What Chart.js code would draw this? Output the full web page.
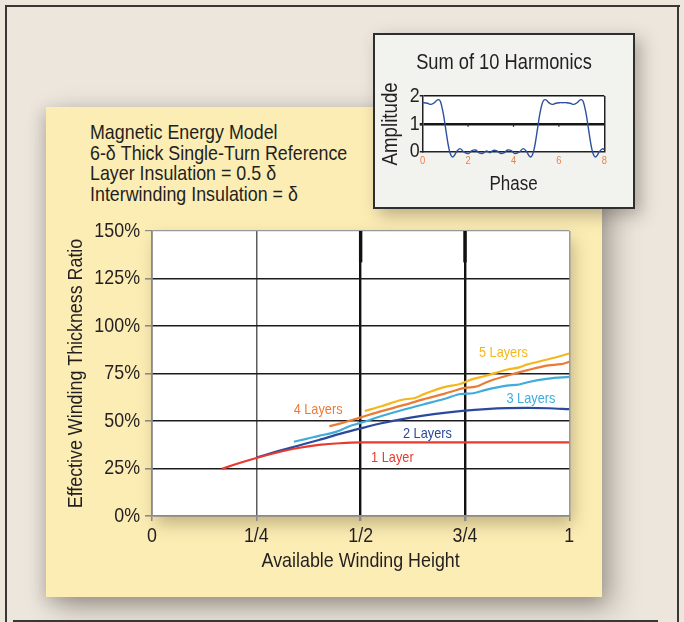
<!DOCTYPE html>
<html>
<head>
<meta charset="utf-8">
<script src="https://cdn.jsdelivr.net/npm/chart.js@4.4.1/dist/chart.umd.min.js"></script>
<style>
  html, body { margin: 0; padding: 0; }
  body { width: 684px; height: 622px; background: #ece6dd; position: relative; overflow: hidden;
         font-family: "Liberation Sans", Arial, sans-serif; color: #231f20; }
  .rule { position: absolute; background: #3a3836; }
  #panel { position: absolute; left: 46px; top: 107px; width: 556px; height: 490px; background: #fcedb5;
           box-shadow: 10px 10px 26px rgba(70,60,50,0.42), -3px 4px 14px rgba(70,60,50,0.2); }
  #caption { position: absolute; left: 90px; top: 122px; font-size: 21px; line-height: 20.7px; white-space: nowrap;
             transform: scaleX(0.85); transform-origin: 0 0; }
  #mainCanvas { position: absolute; left: 46px; top: 107px; }
  #insetBox { position: absolute; left: 373px; top: 33px; width: 262px; height: 176px; box-sizing: border-box;
              background: #f2f2ee; border: 2px solid #2e2e2e; box-shadow: 6px 6px 16px rgba(60,50,40,0.35); }
  #insetTitle { position: absolute; left: 373px; top: 49px; width: 262px; text-align: center; font-size: 21.5px; line-height: 26px;
                white-space: nowrap; transform: scaleX(0.85); transform-origin: 50% 0; }
  #insetCanvas { position: absolute; left: 373px; top: 33px; }
</style>
</head>
<body>
<div class="rule" style="left:5px; top:5px; width:675px; height:2px;"></div>
<div class="rule" style="left:5px; top:5px; width:2px; height:617px;"></div>
<div class="rule" style="left:677px; top:5px; width:2px; height:617px;"></div>
<div class="rule" style="left:13px; top:620px; width:645px; height:2px;"></div>

<div id="panel"></div>
<div id="caption">Magnetic Energy Model<br>6-δ Thick Single-Turn Reference<br>Layer Insulation = 0.5 δ<br>Interwinding Insulation = δ</div>
<canvas id="mainCanvas" width="556" height="490"></canvas>

<div id="insetBox"></div>
<div id="insetTitle">Sum of 10 Harmonics</div>
<canvas id="insetCanvas" width="262" height="176"></canvas>

<script>
// ---- Winding thickness curves (x = fraction of available height, y = %) ----
const xTickLabels = ['0', '1/4', '1/2', '3/4', '1'];

const oneLayerX = [0.167, 0.20, 0.25, 0.30, 0.35, 0.40, 0.45, 0.50, 0.75, 1.00];
const oneLayerY = [24.8, 27.2, 30.5, 33.4, 35.8, 37.4, 38.3, 38.7, 38.7, 38.7];

const twoLayerX = [0.25, 0.30, 0.35, 0.40, 0.45, 0.50, 0.55, 0.60, 0.65, 0.70, 0.75, 0.80, 0.85, 0.90, 0.95, 1.00];
const twoLayerY = [30.8, 34.0, 37.0, 40.0, 43.2, 46.1, 48.8, 51.0, 52.8, 54.3, 55.5, 56.3, 56.8, 56.9, 56.7, 56.2];

const threeLayerX = [0.34, 0.37, 0.40, 0.43, 0.45, 0.47, 0.50, 0.55, 0.60, 0.65, 0.70, 0.74, 0.77, 0.80, 0.85, 0.88, 0.90, 0.95, 1.00];
const threeLayerY = [39.1, 40.6, 42.2, 43.6, 45.0, 47.0, 49.0, 52.6, 55.8, 58.7, 61.6, 64.2, 64.6, 66.4, 68.6, 69.2, 70.4, 72.3, 73.2];

const fourLayerX = [0.425, 0.45, 0.50, 0.55, 0.60, 0.65, 0.70, 0.75, 0.78, 0.80, 0.85, 0.90, 0.95, 0.98, 1.00];
const fourLayerY = [47.3, 48.6, 51.9, 55.2, 58.2, 61.4, 64.3, 67.4, 68.3, 70.3, 73.8, 76.8, 79.3, 79.9, 81.1];

const fiveLayerX = [0.51, 0.55, 0.60, 0.63, 0.65, 0.70, 0.74, 0.76, 0.80, 0.85, 0.88, 0.90, 0.95, 1.00];
const fiveLayerY = [55.3, 57.8, 61.2, 62.1, 64.0, 67.8, 69.6, 71.4, 73.8, 77.0, 78.2, 79.8, 82.5, 85.5];

// ---- Inset: sum of the first 10 harmonics of a pulse train ----
const phase = [0.00, 0.05, 0.21, 0.37, 0.53, 0.61, 0.69, 0.77, 0.84, 0.92, 1.00, 1.08, 1.16, 1.24, 1.32, 1.40, 1.48,
               1.64, 1.80, 2.01, 2.17, 2.33, 2.49, 2.65, 2.81, 2.96, 3.11, 3.27, 3.42, 3.58, 3.74, 3.90, 4.06,
               4.27, 4.43, 4.59, 4.67, 4.75, 4.83, 4.91, 4.99, 5.07, 5.15, 5.23, 5.31, 5.39, 5.47, 5.54, 5.70,
               5.86, 6.02, 6.18, 6.34, 6.50, 6.66, 6.82, 6.90, 6.98, 7.06, 7.13, 7.21, 7.29, 7.37, 7.45, 7.53,
               7.61, 7.69, 7.77, 7.93, 8.00];
const amplitude = [1.76, 1.76, 1.74, 1.70, 1.77, 1.84, 1.87, 1.82, 1.63, 1.31, 0.89, 0.46, 0.10, -0.12, -0.19, -0.13, -0.01,
                   0.11, 0.00, -0.07, 0.04, 0.06, -0.04, -0.06, 0.03, -0.04, 0.05, 0.03, -0.06, -0.04, 0.06, 0.04, -0.07,
                   0.00, 0.11, -0.01, -0.13, -0.19, -0.12, 0.10, 0.46, 0.89, 1.31, 1.63, 1.82, 1.87, 1.84, 1.77, 1.70,
                   1.74, 1.76, 1.76, 1.76, 1.74, 1.70, 1.77, 1.84, 1.87, 1.82, 1.63, 1.31, 0.89, 0.46, 0.10, -0.12,
                   -0.19, -0.13, -0.01, 0.11, 0.07];
const phaseTicks = [0, 2, 4, 6, 8];
const amplitudeTicks = [0, 1, 2];

const FONT = '"Liberation Sans", Arial, sans-serif';
const INK = '#231f20';

function pts(xs, ys) { return xs.map((x, i) => ({ x: x, y: ys[i] })); }

const seriesStyle = [
  { label: '1 Layer',  color: '#e63b2e', xs: oneLayerX,   ys: oneLayerY },
  { label: '2 Layers', color: '#2b4a9c', xs: twoLayerX,   ys: twoLayerY },
  { label: '3 Layers', color: '#41acdc', xs: threeLayerX, ys: threeLayerY },
  { label: '4 Layers', color: '#ec7b37', xs: fourLayerX,  ys: fourLayerY },
  { label: '5 Layers', color: '#f5b81c', xs: fiveLayerX,  ys: fiveLayerY }
];

// where each curve name sits, in axis units
const labelAnchors = {
  '1 Layer':  { x: 0.576, y: 30.8 },
  '2 Layers': { x: 0.660, y: 43.1 },
  '3 Layers': { x: 0.908, y: 61.5 },
  '4 Layers': { x: 0.398, y: 55.7 },
  '5 Layers': { x: 0.842, y: 85.8 }
};

// all chart text is set in a condensed cut: squeeze glyphs horizontally around their anchor
const condensedText = {
  id: 'condensedText',
  beforeInit(chart) {
    const ctx = chart.ctx;
    const nativeFill = CanvasRenderingContext2D.prototype.fillText;
    ctx.fillText = function (text, x, y) {
      this.save();
      this.translate(x, y);
      this.scale(0.85, 1);
      nativeFill.call(this, text, 0, 0);
      this.restore();
    };
  }
};

const plotBackdrop = {
  id: 'plotBackdrop',
  beforeDraw(chart, args, opts) {
    const { ctx, chartArea: a } = chart;
    ctx.save();
    ctx.shadowColor = opts.shadow || 'rgba(0,0,0,0)';
    ctx.shadowBlur = opts.blur || 0;
    ctx.shadowOffsetX = opts.dx || 0;
    ctx.shadowOffsetY = opts.dy || 0;
    ctx.fillStyle = '#ffffff';
    ctx.fillRect(a.left, a.top, a.right - a.left, a.bottom - a.top);
    ctx.restore();
  }
};

// the quarter-height rules are drawn heavier where they meet the top edge
const heavyRuleTops = {
  id: 'heavyRuleTops',
  beforeDatasetsDraw(chart) {
    const { ctx, scales: { x, y } } = chart;
    ctx.save();
    ctx.strokeStyle = '#111111';
    ctx.lineWidth = 3.4;
    [0.5, 0.75].forEach(v => {
      const px = x.getPixelForValue(v);
      ctx.beginPath();
      ctx.moveTo(px, y.getPixelForValue(150));
      ctx.lineTo(px, y.getPixelForValue(133.5));
      ctx.stroke();
    });
    ctx.restore();
  }
};

const curveNames = {
  id: 'curveNames',
  afterDatasetsDraw(chart) {
    const { ctx, scales: { x, y } } = chart;
    ctx.save();
    ctx.font = '15px ' + FONT;
    ctx.textAlign = 'center';
    ctx.textBaseline = 'middle';
    chart.data.datasets.forEach(ds => {
      const a = labelAnchors[ds.label];
      if (!a) return;
      ctx.fillStyle = ds.borderColor;
      ctx.fillText(ds.label, x.getPixelForValue(a.x), y.getPixelForValue(a.y));
    });
    ctx.restore();
  }
};

new Chart(document.getElementById('mainCanvas'), {
  type: 'line',
  data: {
    datasets: seriesStyle.map(s => ({
      label: s.label,
      data: pts(s.xs, s.ys),
      borderColor: s.color,
      borderWidth: 2.2,
      pointRadius: 0,
      tension: 0.25,
      cubicInterpolationMode: 'monotone',
      fill: false
    }))
  },
  options: {
    responsive: false,
    devicePixelRatio: 1,
    animation: false,
    layout: { padding: { top: 124, right: 32.7, bottom: 0, left: 0 } },
    plugins: {
      legend: { display: false },
      tooltip: { enabled: false },
      plotBackdrop: { shadow: 'rgba(90,70,30,0.35)', blur: 16, dx: 4, dy: 8 }
    },
    scales: {
      x: {
        type: 'linear', min: 0, max: 1,
        afterFit(s) { s.height = 81; },
        ticks: {
          stepSize: 0.25, padding: 3, color: INK, autoSkip: false,
          font: { family: FONT, size: 21 },
          callback: (v, i) => xTickLabels[i]
        },
        grid: {
          tickLength: 5,
          tickColor: '#8a8a8a',
          color: c => (c.index === 2 || c.index === 3) ? '#111111' : (c.index === 4 ? '#9a9a9a' : '#5c5c5c'),
          lineWidth: c => (c.index === 2 || c.index === 3) ? 2.4 : 1.5
        },
        border: { display: true, color: '#8a8a8a', width: 1.5 },
        title: { display: true, text: 'Available Winding Height', color: INK,
                 font: { family: FONT, size: 21 }, padding: { top: 0, bottom: 22.7 } }
      },
      y: {
        type: 'linear', min: 0, max: 150,
        afterFit(s) { s.width = 106; },
        ticks: {
          stepSize: 25, padding: 5, color: INK, autoSkip: false,
          font: { family: FONT, size: 21 },
          callback: v => v + '%'
        },
        grid: {
          tickLength: 7,
          tickColor: '#8a8a8a',
          color: c => (c.tick && c.tick.value === 150) ? '#9a9a9a' : (c.tick && c.tick.value === 0 ? '#8a8a8a' : '#1c1c1c'),
          lineWidth: c => (c.tick && c.tick.value === 150) ? 1.2 : 1.6
        },
        border: { display: true, color: '#8a8a8a', width: 1.5 },
        title: { display: true, text: 'Effective Winding Thickness Ratio', color: INK,
                 font: { family: FONT, size: 21 }, padding: { top: 18.1, bottom: 0 } }
      }
    }
  },
  plugins: [condensedText, plotBackdrop, heavyRuleTops, curveNames]
});

// small tick marks sitting on the unit line of the inset
const unitLineTicks = {
  id: 'unitLineTicks',
  afterDraw(chart) {
    const { ctx, scales: { x, y } } = chart;
    const yy = y.getPixelForValue(1);
    ctx.save();
    ctx.strokeStyle = '#222';
    ctx.lineWidth = 1.2;
    [2, 4, 6].forEach(v => {
      const px = x.getPixelForValue(v);
      ctx.beginPath();
      ctx.moveTo(px, yy);
      ctx.lineTo(px, yy + 3);
      ctx.stroke();
    });
    ctx.restore();
  }
};

new Chart(document.getElementById('insetCanvas'), {
  type: 'line',
  data: {
    datasets: [{
      data: pts(phase, amplitude),
      borderColor: '#2d4f9f',
      borderWidth: 1.4,
      pointRadius: 0,
      tension: 0.35,
      clip: false,
      fill: false
    }]
  },
  options: {
    responsive: false,
    devicePixelRatio: 1,
    animation: false,
    layout: { padding: { top: 63, right: 30.7, bottom: 0, left: 0 } },
    plugins: {
      legend: { display: false },
      tooltip: { enabled: false },
      plotBackdrop: {}
    },
    scales: {
      x: {
        type: 'linear', min: 0, max: 8,
        afterFit(s) { s.height = 57.3; },
        afterBuildTicks(s) { s.ticks = phaseTicks.map(v => ({ value: v })); },
        ticks: { padding: 2.4, color: '#e8834d', autoSkip: false, font: { family: FONT, size: 11 } },
        grid: {
          drawTicks: false,
          color: c => (c.tick && c.tick.value === 8) ? '#222222' : 'rgba(0,0,0,0)',
          lineWidth: 1.5
        },
        border: { display: true, color: '#222222', width: 1.5 },
        title: { display: true, text: 'Phase', color: INK, font: { family: FONT, size: 20 },
                 padding: { top: 0, bottom: 13 } }
      },
      y: {
        type: 'linear', min: 0, max: 2,
        afterFit(s) { s.width = 49.7; },
        afterBuildTicks(s) { s.ticks = amplitudeTicks.map(v => ({ value: v })); },
        ticks: { padding: 0, color: INK, autoSkip: false, font: { family: FONT, size: 21 } },
        grid: {
          tickLength: 3,
          tickColor: '#222222',
          color: c => (c.tick && c.tick.value === 0) ? 'rgba(0,0,0,0)' : '#161616',
          lineWidth: c => (c.tick && c.tick.value === 1) ? 2.6 : 1.5
        },
        border: { display: true, color: '#222222', width: 1.5 },
        title: { display: true, text: 'Amplitude', color: INK, font: { family: FONT, size: 22 },
                 padding: { top: 4.5, bottom: 0 } }
      }
    }
  },
  plugins: [condensedText, plotBackdrop, unitLineTicks]
});
</script>
</body>
</html>
